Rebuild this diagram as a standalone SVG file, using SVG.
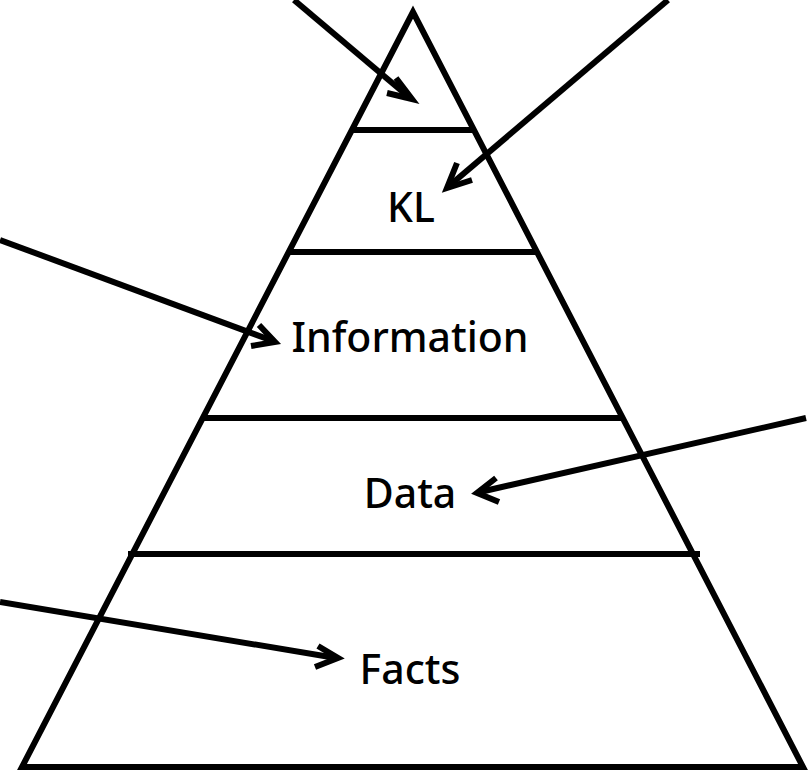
<svg xmlns="http://www.w3.org/2000/svg" width="808" height="779" viewBox="0 0 808 779">
<style>
.ln{stroke:#000;stroke-width:6;fill:none;stroke-linecap:butt}
.ar{stroke:#000;stroke-width:6;fill:none}
.lb{font-family:"Noto Sans","Noto Sans CJK JP",sans-serif;font-size:41px;font-weight:500;fill:#000;text-anchor:middle}
</style>
<g id="pyramid">
<path class="ln" d="M413,12 L22,767 L803,767 Z" stroke-linejoin="miter"/>
<line class="ln" x1="352" y1="130" x2="475" y2="130"/>
<line class="ln" x1="289" y1="252" x2="537" y2="252"/>
<line class="ln" x1="204" y1="418" x2="623" y2="418"/>
<line class="ln" x1="128" y1="554" x2="700" y2="554"/>
</g>
<g id="labels">
<text class="lb" x="411" y="222">KL</text>
<text class="lb" x="410" y="352">Information</text>
<text class="lb" x="410" y="508">Data</text>
<text class="lb" x="410" y="684">Facts</text>
</g>
<g id="connectors">
<path class="ar" d="M294,0 L410,98"/>
<path class="ar" d="M396,78 L412,99 L387,93"/>
<path class="ar" d="M668,0 L449,186"/>
<path class="ar" d="M457,163 L447,188 L472,180"/>
<path class="ar" d="M0,240 L273,341"/>
<path class="ar" d="M259,325 L275,342 L251,346"/>
<path class="ar" d="M806,418 L480,492"/>
<path class="ar" d="M496,478 L477,493 L499,502"/>
<path class="ar" d="M0,602 L336,658"/>
<path class="ar" d="M318,646 L338,658 L315,667"/>
</g>
</svg>
